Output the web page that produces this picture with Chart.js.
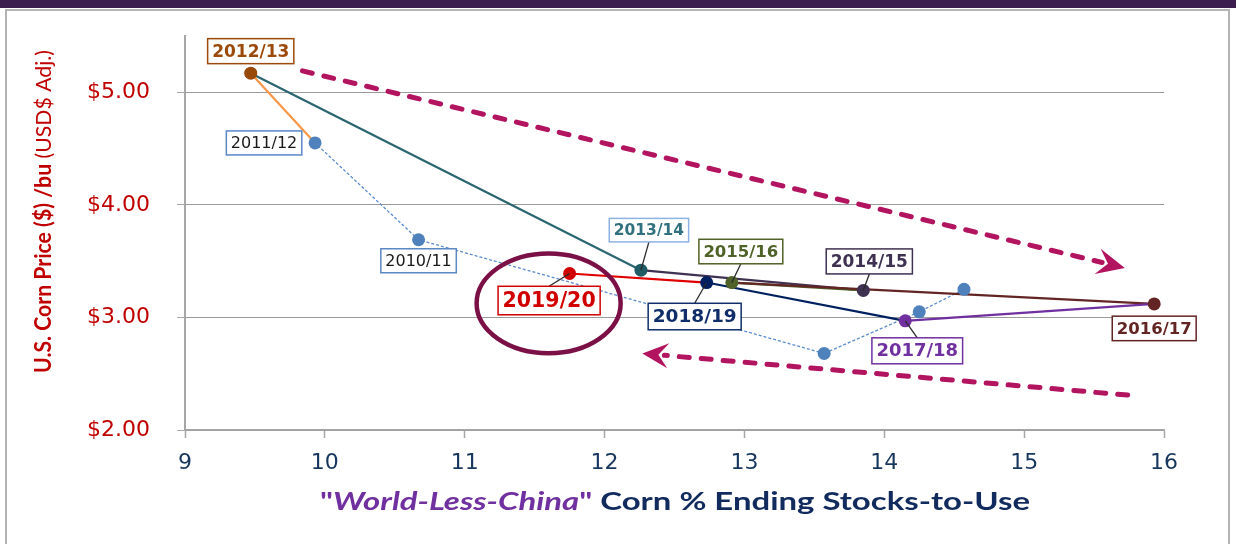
<!DOCTYPE html>
<html>
<head>
<meta charset="utf-8">
<script src="https://cdn.jsdelivr.net/npm/chart.js"></script>
<style>
  html, body { margin: 0; padding: 0; background: #fff; }
  body { width: 1236px; height: 544px; position: relative; overflow: hidden; }
  .band { position: absolute; left: 0; top: 0; width: 1236px; height: 8px; background: #3b1d4f; }
  .frame { position: absolute; left: 5px; top: 9px; width: 1221px; height: 600px; border: 2px solid #b4b4b4; }
  .wrap { position: absolute; left: 0; top: 0; width: 1236px; height: 544px; }
</style>
</head>
<body>
<div class="band"></div>
<div class="frame"></div>
<div class="wrap"><canvas id="cornChart"></canvas></div>

<script>
    // path of seasons, in the order the lines join them
    const seasons = ['', '', '', '2010/11', '2011/12', '2012/13', '2013/14', '2014/15', '2015/16', '2016/17', '2017/18', '2018/19', '2019/20'];
    const stocksToUse = [14.57, 14.25, 13.57, 10.67, 9.93, 9.47, 12.26, 13.85, 12.91, 15.93, 14.15, 12.73, 11.75];
    const cornPrice = [3.25, 3.05, 2.68, 3.69, 4.55, 5.17, 3.42, 3.24, 3.31, 3.12, 2.97, 3.31, 3.39];
    const xTicks = [9, 10, 11, 12, 13, 14, 15, 16];
    const yTicks = [2, 3, 4, 5];

    // trend arrows and the circled season, in axis units
    const trendArrows = [
        { from: [9.84, 5.19], to: [15.72, 3.44], head: [28, 13] },
        { from: [15.74, 2.31], to: [12.27, 2.68], head: [26, 12.5] }
    ];
    const highlight = { x: 11.60, y: 3.125, rx: 0.515, ry: 0.444 };

    const pointColors = ['#4f81bd', '#4f81bd', '#4f81bd', '#4f81bd', '#4f81bd', '#984807', '#1f5c66',
        '#3f3151', '#4f6228', '#632523', '#7030a0', '#002060', '#d00000'];
    const segmentColors = ['#5b8ccc', '#5b8ccc', '#5b8ccc', '#5b8ccc', '#f79646', '#2b6670',
        '#3f3151', '#4f6228', '#632523', '#7030a0', '#002060', '#e00000'];

    const labelStyles = {
        '2010/11': { dx: 0, dy: 21, size: 16, bold: false, color: '#1a1a1a', border: '#5b87c5' },
        '2011/12': { dx: -51, dy: 0, size: 16, bold: false, color: '#1a1a1a', border: '#5b87c5' },
        '2012/13': { dx: 0, dy: -22, size: 17, bold: true, color: '#9c4a0c', border: '#9c4a0c' },
        '2013/14': { dx: 8, dy: -40, size: 15.5, bold: true, color: '#31707e', border: '#8db3e2', leader: true },
        '2014/15': { dx: 6, dy: -29, size: 17, bold: true, color: '#3f3151', border: '#3f3151', leader: true },
        '2015/16': { dx: 9, dy: -31, size: 16.5, bold: true, color: '#4f6228', border: '#4f6228', leader: true },
        '2016/17': { dx: 0, dy: 24.5, size: 16.5, bold: true, color: '#632523', border: '#632523' },
        '2017/18': { dx: 12, dy: 30, size: 18, bold: true, color: '#7030a0', border: '#7030a0', leader: true },
        '2018/19': { dx: -12, dy: 34, size: 18.5, bold: true, color: '#0f2d69', border: '#0f2d69', leader: true },
        '2019/20': { dx: -20.5, dy: 27, size: 20.5, bold: true, color: '#d00000', border: '#d00000', leader: true }
    };

    const datasets = [{
        data: seasons.map((s, i) => ({ x: stocksToUse[i], y: cornPrice[i] })),
        showLine: false,
        pointRadius: 6.5,
        pointBackgroundColor: pointColors,
        pointBorderWidth: 0,
        order: 0
    }];
    // pushed in reverse so later seasons sit on top
    for (let i = seasons.length - 2; i >= 0; i--) {
        const old = i < 4;
        datasets.push({
            data: [{ x: stocksToUse[i], y: cornPrice[i] }, { x: stocksToUse[i + 1], y: cornPrice[i + 1] }],
            showLine: true,
            borderColor: segmentColors[i],
            borderWidth: old ? 1.3 : 2.2,
            borderDash: old ? [3, 2] : [],
            pointRadius: 0,
            order: 1
        });
    }

    function drawRich(ctx, parts, x, y, width, angle) {
        ctx.save();
        ctx.translate(x, y);
        ctx.rotate(angle);
        let total = 0;
        parts.forEach(p => { ctx.font = p.font; p.w = ctx.measureText(p.text).width; total += p.w; });
        ctx.scale(width / total, 1);
        ctx.textBaseline = 'middle';
        ctx.textAlign = 'left';
        let cx = -total / 2;
        parts.forEach(p => {
            ctx.font = p.font;
            ctx.fillStyle = p.color;
            ctx.fillText(p.text, cx, 0);
            cx += p.w;
        });
        ctx.restore();
    }

    function drawArrow(ctx, x0, y0, x1, y1, len, half) {
        const ang = Math.atan2(y1 - y0, x1 - x0);
        const ux = Math.cos(ang), uy = Math.sin(ang);
        const nx = x1 - ux * len * 0.62, ny = y1 - uy * len * 0.62;
        ctx.save();
        ctx.strokeStyle = '#b3145f';
        ctx.fillStyle = '#b3145f';
        ctx.lineWidth = 5;
        ctx.lineCap = 'round';
        ctx.setLineDash([10, 12]);
        ctx.beginPath();
        ctx.moveTo(x0, y0);
        ctx.lineTo(nx - ux * 6, ny - uy * 6);
        ctx.stroke();
        ctx.setLineDash([]);
        ctx.beginPath();
        ctx.moveTo(x1, y1);
        ctx.lineTo(x1 - ux * len - uy * half, y1 - uy * len + ux * half);
        ctx.lineTo(nx, ny);
        ctx.lineTo(x1 - ux * len + uy * half, y1 - uy * len - ux * half);
        ctx.closePath();
        ctx.fill();
        ctx.restore();
    }

    const overlay = {
        id: 'overlay',
        afterDatasetsDraw(chart) {
            const { ctx, scales: { x, y } } = chart;

            // circle round 2019/20
            const ex = x.getPixelForValue(highlight.x), ey = y.getPixelForValue(highlight.y);
            ctx.save();
            ctx.strokeStyle = '#7b1046';
            ctx.lineWidth = 4.5;
            ctx.beginPath();
            ctx.ellipse(ex, ey, x.getPixelForValue(highlight.x + highlight.rx) - ex,
                ey - y.getPixelForValue(highlight.y + highlight.ry), 0, 0, Math.PI * 2);
            ctx.stroke();
            ctx.restore();

            trendArrows.forEach(a => drawArrow(ctx,
                x.getPixelForValue(a.from[0]), y.getPixelForValue(a.from[1]),
                x.getPixelForValue(a.to[0]), y.getPixelForValue(a.to[1]), a.head[0], a.head[1]));

            // season labels
            seasons.forEach((s, i) => {
                const st = labelStyles[s];
                if (!st) return;
                const px = x.getPixelForValue(stocksToUse[i]);
                const py = y.getPixelForValue(cornPrice[i]);
                const cx = px + st.dx, cy = py + st.dy;
                ctx.save();
                ctx.font = (st.bold ? 'bold ' : '') + st.size + 'px "DejaVu Sans"';
                const w = ctx.measureText(s).width + 9;
                const h = st.size + 8;
                if (st.leader) {
                    const ey2 = st.dy < 0 ? cy + h / 2 : cy - h / 2;
                    ctx.strokeStyle = '#2a2a2a';
                    ctx.lineWidth = 1.3;
                    ctx.beginPath();
                    ctx.moveTo(cx, ey2);
                    ctx.lineTo(px, py);
                    ctx.stroke();
                }
                ctx.fillStyle = '#fff';
                ctx.fillRect(cx - w / 2, cy - h / 2, w, h);
                ctx.strokeStyle = st.border;
                ctx.lineWidth = 1.5;
                ctx.strokeRect(cx - w / 2, cy - h / 2, w, h);
                ctx.fillStyle = st.color;
                ctx.textAlign = 'center';
                ctx.textBaseline = 'middle';
                ctx.fillText(s, cx, cy + 1);
                ctx.restore();
            });
        },
        afterDraw(chart) {
            const ctx = chart.ctx;
            drawRich(ctx, [
                { text: 'U.S. Corn Price ($) /bu', font: 'bold 22px Lato', color: '#c00000' },
                { text: ' (USD$ Adj.)', font: '22px Lato', color: '#c00000' }
            ], 43.5, 211.5, 323, -Math.PI / 2);
            drawRich(ctx, [
                { text: '"', font: 'bold 25px Lato', color: '#7030a0' },
                { text: 'World-Less-China', font: 'italic bold 25px Lato', color: '#7030a0' },
                { text: '"', font: 'bold 25px Lato', color: '#7030a0' },
                { text: ' Corn % Ending Stocks-to-Use', font: 'bold 25px Lato', color: '#112b5e' }
            ], 675, 502, 710, 0);
        }
    };

    new Chart(document.getElementById('cornChart'), {
        type: 'scatter',
        data: { datasets: datasets },
        options: {
            responsive: true,
            maintainAspectRatio: false,
            animation: false,
            layout: { padding: { top: 36, right: 72, left: 0, bottom: 0 } },
            plugins: { legend: { display: false }, tooltip: { enabled: false } },
            scales: {
                x: {
                    type: 'linear',
                    min: 9,
                    max: 16,
                    afterBuildTicks: s => { s.ticks = xTicks.map(v => ({ value: v })); },
                    afterFit: s => { s.height = 114; },
                    ticks: { color: '#17365d', font: { family: 'DejaVu Sans', size: 22 }, padding: 12, maxRotation: 0 },
                    grid: { drawOnChartArea: false, tickLength: 8, tickColor: '#a6a6a6', tickWidth: 1.5 },
                    border: { color: '#a6a6a6', width: 1.5 }
                },
                y: {
                    min: 2,
                    max: 5.5,
                    afterBuildTicks: s => { s.ticks = yTicks.map(v => ({ value: v })); },
                    afterFit: s => { s.width = 185; s.paddingTop = 0; s.paddingBottom = 0; },
                    ticks: {
                        color: '#c00000',
                        font: { family: 'DejaVu Sans', size: 22 },
                        padding: 27,
                        callback: v => '$' + v.toFixed(2)
                    },
                    grid: { color: '#9a9a9a', lineWidth: 1, borderDash: [1, 2], tickLength: 8, tickColor: '#a6a6a6', tickBorderDash: [] },
                    border: { color: '#a6a6a6', width: 2 }
                }
            }
        },
        plugins: [overlay]
    });
</script>
</body>
</html>
